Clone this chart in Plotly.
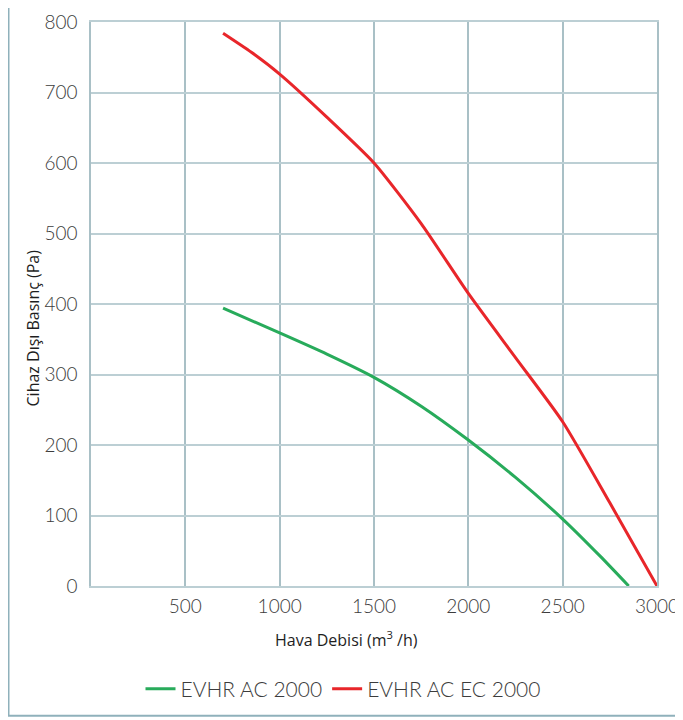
import plotly.graph_objects as go

# Data
ac_flow = [700, 1000, 1250, 1500, 1750, 2000, 2250, 2500, 2700, 2850]
ac_pressure = [394, 359, 329, 296, 255, 207, 154, 95, 42, 0]

ec_flow = [700, 850, 1000, 1250, 1500, 1750, 2000, 2250, 2500, 2750, 3000]
ec_pressure = [784, 757, 726, 665, 600, 514, 415, 324, 233, 118, 0]

x_ticks = [500, 1000, 1500, 2000, 2500, 3000]
y_ticks = [0, 100, 200, 300, 400, 500, 600, 700, 800]

# page body has an 8px margin: figure pixel = page pixel - 8
OFF = 8
W, H = 683 - OFF, 720 - OFF
L, R, T, B = 91 - OFF, 657 - OFF, 22 - OFF, 587 - OFF
PW, PH = R - L, B - T


def px(xp):
    return (xp - OFF - L) / PW


def py(yp):
    return (B - (yp - OFF)) / PH


grid_x = "#a9c0c6"
grid_y = "#bccfd4"
frame_col = "#8fb1bb"
text_col = "#3c3c3c"
tick_font = dict(family="Lato, DejaVu Sans, sans-serif", size=19, color=text_col, weight=300)

fig = go.Figure()
fig.add_trace(go.Scatter(x=ac_flow, y=ac_pressure, mode="lines", name="EVHR AC 2000",
                         line=dict(color="#28ab5b", width=3, shape="spline", smoothing=0.6)))
fig.add_trace(go.Scatter(x=ec_flow, y=ec_pressure, mode="lines", name="EVHR AC EC 2000",
                         line=dict(color="#e8262a", width=3, shape="spline", smoothing=0.6)))

fig.update_layout(
    width=W, height=H,
    margin=dict(l=L, r=W - R, t=T, b=H - B),
    paper_bgcolor="white", plot_bgcolor="white",
    font=dict(family="Lato, DejaVu Sans, sans-serif", color=text_col),
    showlegend=True,
    legend=dict(orientation="h", x=px(343), xanchor="center", y=py(689), yanchor="middle",
                bgcolor="rgba(0,0,0,0)",
                font=dict(family="Lato, DejaVu Sans, sans-serif", size=21, color=text_col, weight=300)),
    xaxis=dict(range=[0, 3000], tickvals=x_ticks, showgrid=True, gridcolor=grid_x,
               gridwidth=1.5, showline=True, linecolor=grid_y, linewidth=1.5, mirror=True,
               zeroline=False, ticks="", ticklabelstandoff=2, tickfont=tick_font, automargin=False),
    yaxis=dict(range=[0, 800], tickvals=y_ticks, showgrid=True, gridcolor=grid_y,
               gridwidth=1.5, showline=True, linecolor=grid_x, linewidth=1.5, mirror=True,
               zeroline=False, ticks="", ticklabelstandoff=8, tickfont=tick_font, automargin=False),
    annotations=[
        dict(text="Hava Debisi (m<sup>3</sup> /h)", xref="paper", yref="paper",
             x=px(346), y=py(640), xanchor="center", yanchor="middle",
             showarrow=False, font=dict(family="Open Sans, sans-serif", size=16, color="#1e1e1e")),
        dict(text="Cihaz Dışı Basınç (Pa)", xref="paper", yref="paper", textangle=-90,
             x=px(33), y=py(328), xanchor="center", yanchor="middle",
             showarrow=False, font=dict(family="Open Sans, sans-serif", size=16, color="#1e1e1e")),
    ],
    shapes=[
        dict(type="line", xref="paper", yref="paper", x0=px(8.5), x1=px(8.5),
             y0=py(717), y1=1.1, line=dict(color=frame_col, width=2)),
        dict(type="line", xref="paper", yref="paper", x0=px(8), x1=1.1,
             y0=py(717), y1=py(717), line=dict(color=frame_col, width=2)),
    ],
)

fig.write_html("out.html")
